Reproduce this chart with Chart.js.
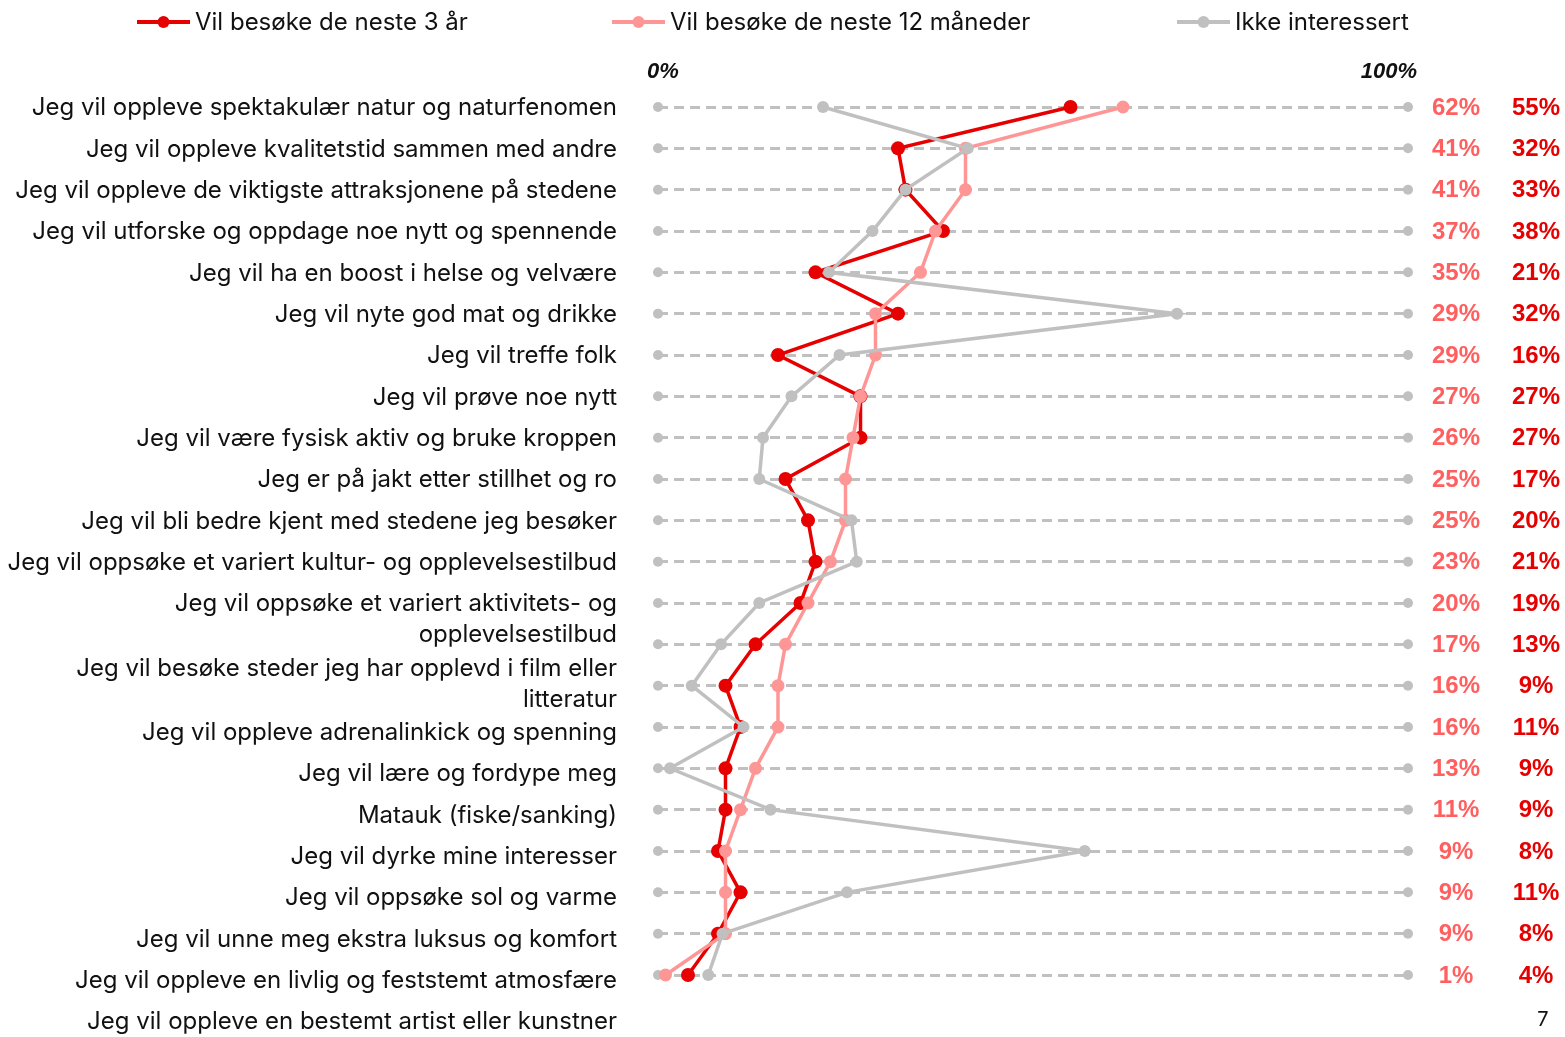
<!DOCTYPE html>
<html>
<head>
<meta charset="utf-8">
<script src="https://cdn.jsdelivr.net/npm/chart.js@4"></script>
<style>
  body { margin: 0; background: #fff; }
</style>
</head>
<body>
<canvas id="canvas" width="1565" height="1037"></canvas>
<script>
// categories, top to bottom
const categories = [
  'Jeg vil oppleve spektakulær natur og naturfenomen',
  'Jeg vil oppleve kvalitetstid sammen med andre',
  'Jeg vil oppleve de viktigste attraksjonene på stedene',
  'Jeg vil utforske og oppdage noe nytt og spennende',
  'Jeg vil ha en boost i helse og velvære',
  'Jeg vil nyte god mat og drikke',
  'Jeg vil treffe folk',
  'Jeg vil prøve noe nytt',
  'Jeg vil være fysisk aktiv og bruke kroppen',
  'Jeg er på jakt etter stillhet og ro',
  'Jeg vil bli bedre kjent med stedene jeg besøker',
  'Jeg vil oppsøke et variert kultur- og opplevelsestilbud',
  ['Jeg vil oppsøke et variert aktivitets- og', 'opplevelsestilbud'],
  ['Jeg vil besøke steder jeg har opplevd i film eller', 'litteratur'],
  'Jeg vil oppleve adrenalinkick og spenning',
  'Jeg vil lære og fordype meg',
  'Matauk (fiske/sanking)',
  'Jeg vil dyrke mine interesser',
  'Jeg vil oppsøke sol og varme',
  'Jeg vil unne meg ekstra luksus og komfort',
  'Jeg vil oppleve en livlig og feststemt atmosfære',
  'Jeg vil oppleve en bestemt artist eller kunstner'
];

const seriesNames = ['Vil besøke de neste 3 år', 'Vil besøke de neste 12 måneder', 'Ikke interessert'];
const visit3y = [55, 32, 33, 38, 21, 32, 16, 27, 27, 17, 20, 21, 19, 13, 9, 11, 9, 9, 8, 11, 8, 4];
const visit12m = [62, 41, 41, 37, 35, 29, 29, 27, 26, 25, 25, 23, 20, 17, 16, 16, 13, 11, 9, 9, 9, 1];
const notInterested = [22, 41.3, 33, 28.6, 22.8, 69.2, 24.2, 17.8, 14, 13.5, 25.8, 26.5, 13.5, 8.4, 4.5, 11.4, 1.6, 15, 56.9, 25.2, 8.6, 6.7];
const axisTicks = [0, 100];
const pageNumber = '7';

const RED = '#e60000';
const PINK = '#ff9696';
const GRAY = '#c0c0c0';
const PINK_TEXT = '#ff5f5f';
const LABEL_FONT = '24px Inter';

const sideText = {
  id: 'sideText',
  afterDraw(chart) {
    const { ctx, scales: { x, y } } = chart;
    ctx.save();

    // legend (drawn by hand so the wide gaps can be matched)
    const legendX = [137, 612, 1177];
    const lineCols = [RED, PINK, GRAY];
    ctx.font = LABEL_FONT;
    ctx.textBaseline = 'middle';
    ctx.textAlign = 'left';
    chart.data.datasets.slice(0, 3).forEach((ds, i) => {
      const lx = legendX[i], ly = 22;
      ctx.strokeStyle = lineCols[i];
      ctx.lineWidth = 4;
      ctx.beginPath();
      ctx.moveTo(lx, ly);
      ctx.lineTo(lx + 53, ly);
      ctx.stroke();
      ctx.fillStyle = lineCols[i];
      ctx.beginPath();
      ctx.arc(lx + 26.5, ly, 6, 0, Math.PI * 2);
      ctx.fill();
      ctx.fillStyle = '#111';
      ctx.fillText(ds.label, lx + 58, ly + 1);
    });

    // 0% / 100%
    ctx.font = 'italic bold 22px "Liberation Sans"';
    ctx.textAlign = 'center';
    ctx.fillStyle = '#111';
    ctx.fillText(axisTicks[0] + '%', x.getPixelForValue(axisTicks[0]) + 5, 72);
    ctx.fillText(axisTicks[1] + '%', x.getPixelForValue(axisTicks[1]) - 19, 72);

    // category labels on the left
    ctx.font = LABEL_FONT;
    ctx.textAlign = 'right';
    ctx.fillStyle = '#111';
    let shift = 0;
    categories.forEach((lab, i) => {
      const lines = Array.isArray(lab) ? lab : [lab];
      const y0 = y.getPixelForValue(i) + shift + 1;
      lines.forEach((t, k) => ctx.fillText(t, x.left - 41, y0 + k * 31));
      shift += (lines.length - 1) * 23;
    });

    // value columns on the right
    ctx.font = 'bold 24px "Liberation Sans"';
    ctx.textAlign = 'center';
    visit12m.forEach((v, i) => {
      ctx.fillStyle = PINK_TEXT;
      ctx.fillText(v + '%', x.right + 48, y.getPixelForValue(i) + 1);
    });
    visit3y.forEach((v, i) => {
      ctx.fillStyle = RED;
      ctx.fillText(v + '%', x.right + 128, y.getPixelForValue(i) + 1);
    });

    // page number
    ctx.font = '20px Inter';
    ctx.fillStyle = '#111';
    ctx.fillText(pageNumber, 1543, 1020);
    ctx.restore();
  }
};

const lineSet = (label, data, color, radius, order) => ({
  label, data,
  borderColor: color,
  backgroundColor: color,
  pointBackgroundColor: color,
  pointBorderWidth: 0,
  pointRadius: radius,
  borderWidth: 3.5,
  tension: 0,
  clip: false,
  order
});

new Chart(document.getElementById('canvas'), {
  type: 'line',
  data: {
    labels: categories,
    datasets: [
      lineSet(seriesNames[0], visit3y, RED, 7, 3),
      lineSet(seriesNames[1], visit12m, PINK, 6.5, 2),
      lineSet(seriesNames[2], notInterested, GRAY, 6, 1),
      { label: 'start', data: categories.map(() => axisTicks[0]), showLine: false, pointRadius: 5, pointBorderWidth: 0, pointBackgroundColor: GRAY, clip: false, order: 5 },
      { label: 'end', data: categories.map(() => axisTicks[1]), showLine: false, pointRadius: 5, pointBorderWidth: 0, pointBackgroundColor: GRAY, clip: false, order: 5 }
    ]
  },
  options: {
    indexAxis: 'y',
    responsive: false,
    animation: false,
    layout: { padding: { left: 658, right: 157, top: 107, bottom: 62 } },
    plugins: {
      legend: { display: false },
      tooltip: { enabled: false }
    },
    scales: {
      x: { type: 'linear', min: axisTicks[0], max: axisTicks[1], display: false },
      y: {
        type: 'category',
        offset: false,
        ticks: { display: false, autoSkip: false },
        grid: { color: GRAY, lineWidth: 3, drawTicks: false },
        border: { display: false, dash: [10, 6] }
      }
    }
  },
  plugins: [sideText]
});
</script>
</body>
</html>
